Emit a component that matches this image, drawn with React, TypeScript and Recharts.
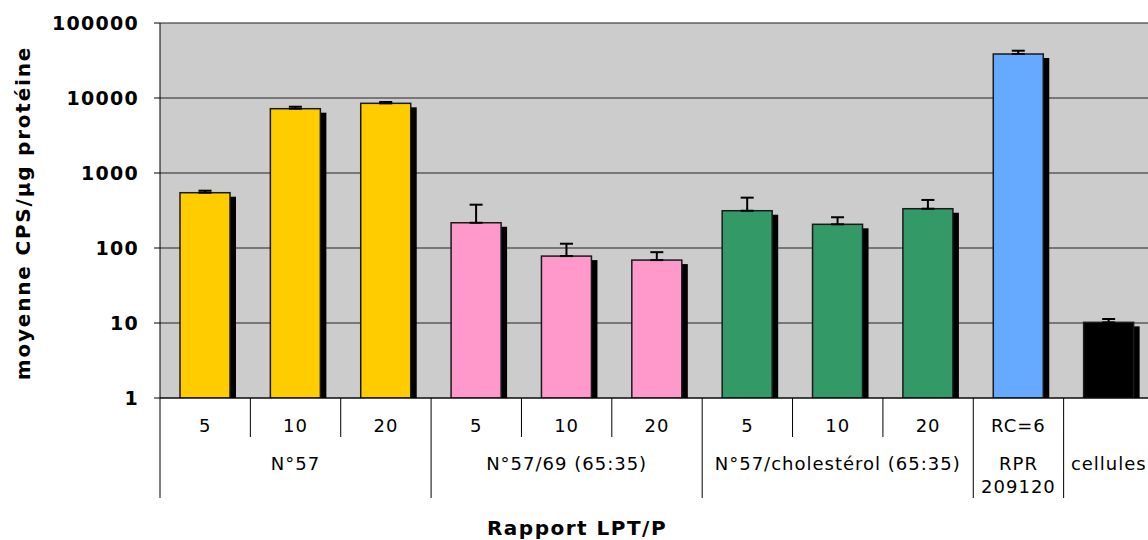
import React from "react";
import { BarChart, Bar, XAxis, YAxis, CartesianGrid, ErrorBar, Cell } from "recharts";

const ratioLabels = ["5", "10", "20", "5", "10", "20", "5", "10", "20", "RC=6", ""];
const groupLabels = [
  "N°57", "N°57", "N°57",
  "N°57/69 (65:35)", "N°57/69 (65:35)", "N°57/69 (65:35)",
  "N°57/cholestérol (65:35)", "N°57/cholestérol (65:35)", "N°57/cholestérol (65:35)",
  "RPR 209120",
  "cellules",
];
const meanValues = [546, 7200, 8490, 217, 78, 69, 314, 207, 334, 38600, 10.2];
const sdValues = [35, 450, 360, 161, 36, 19, 155, 50, 103, 4100, 1.1];
const yTicks = [1, 10, 100, 1000, 10000, 100000];

const groupColors: Record<string, string> = {
  "N°57": "#FFCC00",
  "N°57/69 (65:35)": "#FF99CC",
  "N°57/cholestérol (65:35)": "#339966",
  "RPR 209120": "#66AAFF",
  "cellules": "#000000",
};

const data = ratioLabels.map((r, i) => ({
  key: `c${i}`,
  ratio: r,
  group: groupLabels[i],
  mean: meanValues[i],
  err: [0, sdValues[i]],
}));

const CHART_W = 1160;
const PLOT_LEFT = 160;
const PLOT_RIGHT_MARGIN = 6;
const CAT_W = (CHART_W - PLOT_LEFT - PLOT_RIGHT_MARGIN) / ratioLabels.length;
const FONT = "'DejaVu Sans', Verdana, sans-serif";

const BarShape = (props: any) => {
  const { x, y, width, height, fill } = props;
  if (height == null || height <= 0) return null;
  return (
    <g>
      <rect x={x + 6} y={y + 4} width={width} height={Math.max(0, height - 4)} fill="#000" />
      <rect x={x} y={y} width={width} height={height} fill={fill} stroke="#1a1a1a" strokeWidth={1.5} />
    </g>
  );
};

const CategoryTick = (props: any) => {
  const { x, y, index } = props;
  const left = x - CAT_W / 2;
  const grp = groupLabels[index];
  const isGroupStart = index === 0 || groupLabels[index - 1] !== grp;
  let start = index;
  while (start > 0 && groupLabels[start - 1] === grp) start--;
  let end = index;
  while (end < groupLabels.length - 1 && groupLabels[end + 1] === grp) end++;
  const isMiddle = index === Math.floor((start + end) / 2);
  const groupLines = grp === "RPR 209120" ? ["RPR", "209120"] : [grp];
  return (
    <g>
      <line x1={left} x2={left} y1={y} y2={isGroupStart ? y + 100 : y + 39} stroke="#000" strokeWidth={1} />
      {ratioLabels[index] !== "" && (
        <text x={x} y={y + 34} textAnchor="middle" fontFamily={FONT} fontSize={18} letterSpacing={1} fill="#000">
          {ratioLabels[index]}
        </text>
      )}
      {isMiddle &&
        groupLines.map((t, k) => (
          <text key={k} x={x} y={y + 72 + k * 23} textAnchor="middle" fontFamily={FONT} fontSize={18} letterSpacing={1} fill="#000">
            {t}
          </text>
        ))}
    </g>
  );
};

export default function App() {
  return (
    <div style={{ position: "absolute", left: 0, top: 0, width: 1148, height: 540, overflow: "hidden", background: "#fff" }}>
      <BarChart
        width={CHART_W}
        height={540}
        data={data}
        margin={{ top: 23, right: PLOT_RIGHT_MARGIN, left: 0, bottom: 42 }}
        barSize={50}
      >
        <CartesianGrid horizontal={true} vertical={false} fill="#CCCCCC" stroke="#222" strokeWidth={1} />
        <XAxis
          dataKey="key"
          height={100}
          interval={0}
          tickLine={false}
          tickSize={0}
          tickMargin={0}
          axisLine={{ stroke: "#000", strokeWidth: 1 }}
          tick={<CategoryTick />}
        />
        <YAxis
          width={PLOT_LEFT}
          scale="log"
          domain={[1, 100000]}
          ticks={yTicks}
          allowDataOverflow
          interval={0}
          axisLine={{ stroke: "#000", strokeWidth: 1 }}
          tickLine={{ stroke: "#000" }}
          tickSize={6}
          tickMargin={15}
          tick={{ fontFamily: FONT, fontSize: 19, fontWeight: "bold", fill: "#000", letterSpacing: 1.3 }}
        />
        <Bar dataKey="mean" isAnimationActive={false} shape={<BarShape />}>
          {data.map((d) => (
            <Cell key={d.key} fill={groupColors[d.group]} />
          ))}
          <ErrorBar dataKey="err" direction="y" width={6.5} stroke="#000" strokeWidth={2} />
        </Bar>
      </BarChart>
      <div
        style={{
          position: "absolute",
          left: 23,
          top: 213,
          transform: "translate(-50%, -50%) rotate(-90deg)",
          whiteSpace: "nowrap",
          fontFamily: FONT,
          fontWeight: "bold",
          fontSize: 20,
          letterSpacing: 1.8,
          color: "#000",
        }}
      >
        moyenne CPS/µg protéine
      </div>
      <div
        style={{
          position: "absolute",
          left: 577,
          top: 528,
          transform: "translate(-50%, -50%)",
          whiteSpace: "nowrap",
          fontFamily: FONT,
          fontWeight: "bold",
          fontSize: 20,
          letterSpacing: 1.5,
          color: "#000",
        }}
      >
        Rapport LPT/P
      </div>
    </div>
  );
}
